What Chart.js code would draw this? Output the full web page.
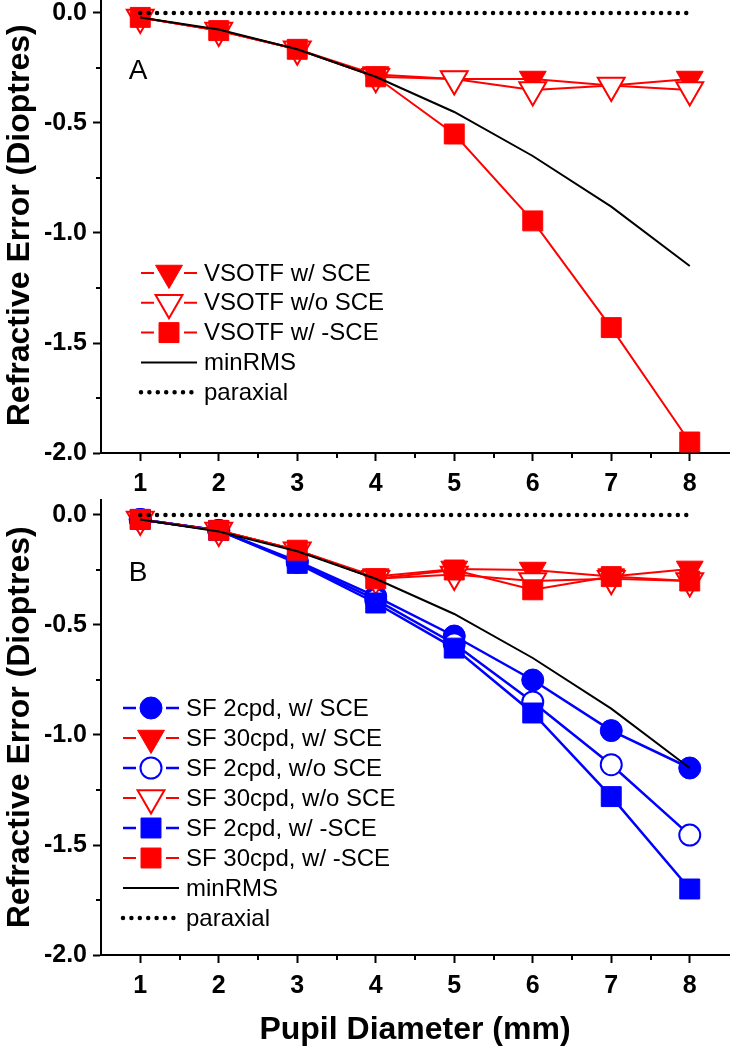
<!DOCTYPE html>
<html>
<head>
<meta charset="utf-8">
<script src="https://cdn.jsdelivr.net/npm/chart.js@4.4.1/dist/chart.umd.min.js"></script>
<style>
  html, body { margin: 0; padding: 0; background: #fff; }
  body { width: 731px; height: 1050px; position: relative; overflow: hidden; }
  canvas { position: absolute; left: 0; }
  #panelA { top: -8px; }
  #panelB { top: 494px; }
</style>
</head>
<body>
<canvas id="panelA" width="731" height="502"></canvas>
<canvas id="panelB" width="731" height="556"></canvas>
<script>
/* =============================================
   DATA
   ============================================= */
const pupil = [1, 2, 3, 4, 5, 6, 7, 8];
const xTicks = [1, 2, 3, 4, 5, 6, 7, 8];
const xMinorTicks = [1.5, 2.5, 3.5, 4.5, 5.5, 6.5, 7.5];
const yTicks = [-2.0, -1.5, -1.0, -0.5, 0.0];
const yMinorTicks = [-1.75, -1.25, -0.75, -0.25];

const minRMS   = [-0.02, -0.075, -0.165, -0.29, -0.45, -0.65, -0.88, -1.15];
const paraxial = [0, 0, 0, 0, 0, 0, 0, 0];

// panel A - VSOTF
const vsotfWithSCE    = [-0.02, -0.08, -0.165, -0.28, -0.30, -0.30, -0.33, -0.30];
const vsotfWithoutSCE = [-0.02, -0.08, -0.165, -0.29, -0.30, -0.35, -0.33, -0.35];
const vsotfNegSCE     = [-0.02, -0.08, -0.165, -0.29, -0.55, -0.945, -1.43, -1.95];

// panel B - spatial frequency 2 / 30 cpd
const sf2WithSCE     = [-0.02, -0.07, -0.21, -0.37, -0.55, -0.75, -0.98, -1.15];
const sf30WithSCE    = [-0.02, -0.07, -0.16, -0.28, -0.245, -0.25, -0.28, -0.245];
const sf2WithoutSCE  = [-0.02, -0.07, -0.215, -0.385, -0.585, -0.85, -1.135, -1.455];
const sf30WithoutSCE = [-0.02, -0.07, -0.16, -0.29, -0.27, -0.30, -0.29, -0.30];
const sf2NegSCE      = [-0.02, -0.07, -0.22, -0.40, -0.605, -0.90, -1.28, -1.70];
const sf30NegSCE     = [-0.02, -0.07, -0.16, -0.29, -0.25, -0.34, -0.28, -0.30];

/* =============================================
   STYLE HELPERS
   ============================================= */
const RED = '#ff0000';
const BLUE = '#0000ff';
const FAMILY = '"Liberation Sans", Arial, sans-serif';

const pts = arr => arr.map((y, i) => ({ x: pupil[i], y }));

// symbol series: style = circle | rect | triangle (pointing down)
function markerSeries(label, data, color, style, filled) {
  const radius = style === 'circle' ? (filled ? 11 : 10.5) : style === 'rect' ? 14.1 : 15.5;
  return {
    label,
    data: pts(data),
    borderColor: color,
    borderWidth: color === BLUE ? 2.5 : 2,
    pointStyle: style,
    pointRotation: style === 'triangle' ? 180 : 0,
    pointRadius: radius,
    pointBackgroundColor: filled ? color : '#ffffff',
    pointBorderColor: color,
    pointBorderWidth: filled ? 1 : 2,
    tension: 0
  };
}

function lineSeries(label, data, dotted) {
  return {
    label,
    data: pts(data),
    borderColor: '#000',
    borderWidth: dotted ? 4.5 : 2,
    borderDash: dotted ? [0, 8.4] : [],
    borderCapStyle: dotted ? 'round' : 'butt',
    pointRadius: 0,
    tension: 0
  };
}

// later legend entries sit on top, as in the original plot
function stackOrder(sets) {
  sets.forEach((ds, i) => { ds.order = sets.length - 1 - i; });
  return sets;
}

/* =============================================
   DECORATION PLUGIN: minor ticks, legend, panel letter
   ============================================= */
const decor = {
  id: 'decor',
  afterDraw(chart, args, opts) {
    const { ctx, chartArea: a, scales: { x, y } } = chart;
    ctx.save();

    // minor ticks
    ctx.strokeStyle = '#000';
    ctx.lineWidth = 2;
    xMinorTicks.forEach(v => {
      const px = Math.round(x.getPixelForValue(v));
      ctx.beginPath(); ctx.moveTo(px, a.bottom); ctx.lineTo(px, a.bottom + 5); ctx.stroke();
    });
    yMinorTicks.forEach(v => {
      const py = Math.round(y.getPixelForValue(v));
      ctx.beginPath(); ctx.moveTo(a.left, py); ctx.lineTo(a.left - 5, py); ctx.stroke();
    });

    // panel letter
    ctx.fillStyle = '#000';
    ctx.font = '28px ' + FAMILY;
    ctx.textAlign = 'center';
    ctx.textBaseline = 'middle';
    ctx.fillText(opts.letter, a.left + 37, a.top + 74);

    // legend
    const x0 = a.left + opts.x;
    const xc = x0 + 28;
    chart.data.datasets.forEach((ds, i) => {
      const cy = a.top + opts.y + i * opts.gap;
      ctx.strokeStyle = ds.borderColor;
      ctx.lineWidth = ds.borderWidth;
      ctx.lineCap = ds.borderCapStyle || 'butt';
      ctx.setLineDash(ds.borderDash || []);
      ctx.beginPath();
      if (ds.pointRadius > 0) {
        ctx.moveTo(x0, cy); ctx.lineTo(xc - 15, cy);
        ctx.moveTo(xc + 15, cy); ctx.lineTo(x0 + 56, cy);
        ctx.stroke();
        ctx.setLineDash([]);
        ctx.fillStyle = ds.pointBackgroundColor;
        ctx.strokeStyle = ds.pointBorderColor;
        ctx.lineWidth = ds.pointBorderWidth;
        Chart.helpers.drawPoint(ctx, {
          pointStyle: ds.pointStyle,
          rotation: ds.pointRotation,
          radius: ds.pointRadius,
          borderWidth: ds.pointBorderWidth
        }, xc, cy);
      } else {
        ctx.moveTo(x0, cy);
        ctx.lineTo(x0 + (ds.borderDash.length ? 53 : 56), cy);
        ctx.stroke();
      }
      ctx.setLineDash([]);
      ctx.fillStyle = '#000';
      ctx.font = '24px ' + FAMILY;
      ctx.textAlign = 'left';
      ctx.textBaseline = 'middle';
      ctx.fillText(ds.label, x0 + 63, cy + 1);
    });

    ctx.restore();
  }
};

/* =============================================
   CHART BUILDER
   ============================================= */
const tickFont = { family: FAMILY, size: 25, weight: 'bold' };
const titleFont = { family: FAMILY, size: 32, weight: 'bold', lineHeight: 1 };

function makePanel(canvasId, datasets, xHeight, showXTitle, legend) {
  return new Chart(document.getElementById(canvasId), {
    type: 'line',
    data: { datasets: stackOrder(datasets) },
    plugins: [decor],
    options: {
      responsive: false,
      animation: false,
      events: [],
      layout: { autoPadding: false, padding: { top: 5.6, right: 2, left: 0, bottom: 0 } },
      plugins: {
        legend: { display: false },
        tooltip: { enabled: false },
        decor: legend
      },
      scales: {
        x: {
          type: 'linear',
          min: 0.5,
          max: 8.5,
          afterBuildTicks: s => { s.ticks = xTicks.map(v => ({ value: v })); },
          afterFit: s => { s.height = xHeight; s.paddingLeft = 0; s.paddingRight = 0; },
          ticks: { font: tickFont, color: '#000', padding: 8, maxRotation: 0, autoSkip: false, callback: v => String(v) },
          grid: { drawOnChartArea: false, tickLength: 8, tickWidth: 2, tickColor: '#000' },
          border: { color: '#000', width: 2 },
          title: { display: showXTitle, text: 'Pupil Diameter (mm)', font: titleFont, color: '#000', padding: { top: 0, bottom: 4 } }
        },
        y: {
          type: 'linear',
          min: -2,
          max: 0.07,
          afterBuildTicks: s => { s.ticks = yTicks.map(v => ({ value: v })); },
          afterFit: s => { s.width = 101; s.paddingTop = 0; s.paddingBottom = 0; },
          ticks: { font: tickFont, color: '#000', padding: 6, autoSkip: false, callback: v => v.toFixed(1) },
          grid: { drawOnChartArea: false, tickLength: 8, tickWidth: 2, tickColor: '#000' },
          border: { color: '#000', width: 2 },
          title: { display: true, text: 'Refractive Error (Dioptres)', font: titleFont, color: '#000', padding: { top: 4, bottom: 0 } }
        }
      }
    }
  });
}

/* =============================================
   RENDER
   ============================================= */
makePanel('panelA', [
  markerSeries('VSOTF w/ SCE', vsotfWithSCE, RED, 'triangle', true),
  markerSeries('VSOTF w/o SCE', vsotfWithoutSCE, RED, 'triangle', false),
  markerSeries('VSOTF w/ -SCE', vsotfNegSCE, RED, 'rect', true),
  lineSeries('minRMS', minRMS, false),
  lineSeries('paraxial', paraxial, true)
], 41, false, { letter: 'A', x: 40, y: 275.4, gap: 29.8 });

makePanel('panelB', [
  markerSeries('SF 2cpd, w/ SCE', sf2WithSCE, BLUE, 'circle', true),
  markerSeries('SF 30cpd, w/ SCE', sf30WithSCE, RED, 'triangle', true),
  markerSeries('SF 2cpd, w/o SCE', sf2WithoutSCE, BLUE, 'circle', false),
  markerSeries('SF 30cpd, w/o SCE', sf30WithoutSCE, RED, 'triangle', false),
  markerSeries('SF 2cpd, w/ -SCE', sf2NegSCE, BLUE, 'rect', true),
  markerSeries('SF 30cpd, w/ -SCE', sf30NegSCE, RED, 'rect', true),
  lineSeries('minRMS', minRMS, false),
  lineSeries('paraxial', paraxial, true)
], 95, true, { letter: 'B', x: 22, y: 208.4, gap: 30 });
</script>
</body>
</html>
